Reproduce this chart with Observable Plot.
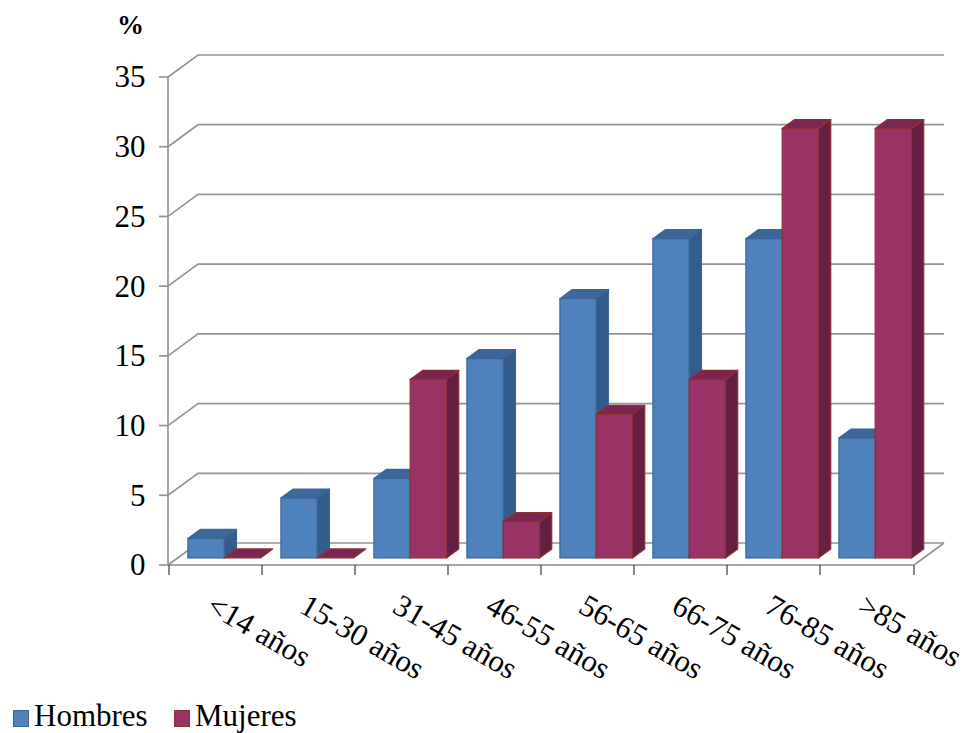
<!DOCTYPE html>
<html>
<head>
<meta charset="utf-8">
<script src="https://cdn.jsdelivr.net/npm/d3@7"></script>
<script src="https://cdn.jsdelivr.net/npm/@observablehq/plot@0.6"></script>
<style>
  body { margin: 0; background: #fff; font-family: "Liberation Serif", "Times New Roman", serif; }
  #legend { position: relative; height: 33px; width: 966px; }
  #legend .sw { position: absolute; top: 10px; width: 14px; height: 15px; border: 1px solid; }
  #legend .lb { position: absolute; top: 0px; font-size: 31px; line-height: 31px; color: #000; white-space: nowrap; font-family: "Liberation Serif", serif; }
</style>
</head>
<body>
<div id="chart"></div>
<div id="legend"></div>
<script>
// ---- data ----
const categories = ["<14 años", "15-30 años", "31-45 años", "46-55 años", "56-65 años", "66-75 años", "76-85 años", ">85 años"];
const hombres = [1.4, 4.3, 5.7, 14.3, 18.6, 22.9, 22.9, 8.6];
const mujeres = [0, 0, 12.8, 2.6, 10.3, 12.8, 30.8, 30.8];
const seriesNames = ["Hombres", "Mujeres"];
const yTicks = [0, 5, 10, 15, 20, 25, 30, 35];
const yLabel = "%";

// ---- styles ----
const palette = [
  {front: "#4F81BD", top: "#3C6798", side: "#335C8C", stroke: "#3A6699"},
  {front: "#993366", top: "#7A2650", side: "#641F42", stroke: "#8E2F35"}
];
const seriesValues = [hombres, mujeres];
const rows = categories.flatMap((c, i) => seriesNames.map((s, j) => ({cat: c, serie: s, j, value: seriesValues[j][i]})));

const WALL = [30, -22];        // depth offset of the back wall
const BAR_FRONT = 0.32, BAR_BACK = 0.73; // bar depth position (fraction of wall depth)
const GROUP_PAD = 0.1, BAR_W = 0.39;      // fractions of band width

function frame3d(index, scales, values, dims) {
  const {x, y} = scales;
  const x0 = dims.marginLeft, x1 = dims.width - dims.marginRight;
  const [wx, wy] = WALL;
  const g = d3.create("svg:g");
  for (const t of yTicks) {
    const yy = y(t);
    g.append("polyline")
      .attr("points", [[x0, yy], [x0 + wx, yy + wy], [x1 + wx, yy + wy]].join(" "))
      .attr("fill", "none").attr("stroke", "#959595").attr("stroke-width", 1.7);
    g.append("line").attr("x1", x0 - 9).attr("x2", x0).attr("y1", yy).attr("y2", yy)
      .attr("stroke", "#959595").attr("stroke-width", 1.7);
  }
  g.append("line").attr("x1", x1).attr("y1", y(0)).attr("x2", x1 + wx).attr("y2", y(0) + wy)
    .attr("stroke", "#959595").attr("stroke-width", 1.7);
  g.append("line").attr("x1", x0).attr("x2", x0).attr("y1", y(0)).attr("y2", y(yTicks[yTicks.length - 1]))
    .attr("stroke", "#959595").attr("stroke-width", 1.7);
  return g.node();
}

function bars3d(index, scales, values, dims) {
  const {x, y} = scales;
  const bw = x.bandwidth();
  const [wx, wy] = WALL;
  const ox = wx * BAR_FRONT, oy = wy * BAR_FRONT;
  const tdx = wx * (BAR_BACK - BAR_FRONT), tdy = wy * (BAR_BACK - BAR_FRONT);
  const g = d3.create("svg:g");
  for (const r of rows) {
    const p = palette[r.j];
    const w = bw * BAR_W;
    const bx = x(r.cat) + bw * GROUP_PAD + r.j * w + ox;
    const by0 = y(0) + oy, byt = y(r.value) + oy;
    const sw = 1.2;
    if (r.value > 0) {
      g.append("polygon")
        .attr("points", [[bx + w, byt], [bx + w + tdx, byt + tdy], [bx + w + tdx, by0 + tdy], [bx + w, by0]].join(" "))
        .attr("fill", p.side).attr("stroke", p.stroke).attr("stroke-width", sw).attr("stroke-linejoin", "round");
    }
    g.append("polygon")
      .attr("points", [[bx, byt], [bx + tdx, byt + tdy], [bx + w + tdx, byt + tdy], [bx + w, byt]].join(" "))
      .attr("fill", p.top).attr("stroke", p.stroke).attr("stroke-width", sw).attr("stroke-linejoin", "round");
    if (r.value > 0) {
      g.append("rect").attr("x", bx).attr("y", byt).attr("width", w).attr("height", by0 - byt)
        .attr("fill", p.front).attr("stroke", p.stroke).attr("stroke-width", sw);
    }
  }
  return g.node();
}

function axisX3d(index, scales, values, dims) {
  const {x, y} = scales;
  const x0 = dims.marginLeft, x1 = dims.width - dims.marginRight;
  const g = d3.create("svg:g");
  g.append("line").attr("x1", x0).attr("x2", x1).attr("y1", y(0)).attr("y2", y(0))
    .attr("stroke", "#888").attr("stroke-width", 1.7);
  const bounds = categories.map(c => x(c)).concat([x1]);
  for (const b of bounds) {
    g.append("line").attr("x1", b).attr("x2", b).attr("y1", y(0)).attr("y2", y(0) + 10)
      .attr("stroke", "#555").attr("stroke-width", 1.4);
  }
  return g.node();
}

const chart = Plot.plot({
  width: 966,
  height: 700,
  marginLeft: 168,
  marginRight: 52,
  marginTop: 77,
  marginBottom: 135,
  style: {fontFamily: "'Liberation Serif', 'Times New Roman', serif", fontSize: "31px", color: "#000", background: "#fff", overflow: "visible"},
  x: {type: "band", domain: categories, padding: 0, axis: null},
  y: {domain: [0, 35], axis: null},
  marks: [
    frame3d,
    bars3d,
    axisX3d,
    Plot.text(yTicks, {y: d => d, text: d => String(d), frameAnchor: "left", dx: -23, textAnchor: "end", lineAnchor: "middle", fontSize: 31, fontFamily: "Liberation Serif", fill: "#000"}),
    Plot.text(categories, {x: d => d, text: d => d, frameAnchor: "bottom", dy: 27, rotate: 30, textAnchor: "start", lineAnchor: "top", fontSize: 31, fontFamily: "Liberation Serif", fill: "#000"}),
    Plot.text([yLabel], {text: d => d, frameAnchor: "top-left", dx: -38, dy: -52, textAnchor: "middle", lineAnchor: "middle", fontSize: 27, fontWeight: "bold", fontFamily: "Liberation Serif", fill: "#000"})
  ]
});
document.getElementById("chart").appendChild(chart);

// legend
const legend = d3.select("#legend");
const legendX = [13, 174];
seriesNames.forEach((name, j) => {
  legend.append("div").attr("class", "sw")
    .style("left", legendX[j] + "px")
    .style("background", palette[j].front)
    .style("border-color", palette[j].stroke);
  legend.append("div").attr("class", "lb")
    .style("left", (legendX[j] + 21) + "px")
    .text(name);
});
</script>
</body>
</html>
